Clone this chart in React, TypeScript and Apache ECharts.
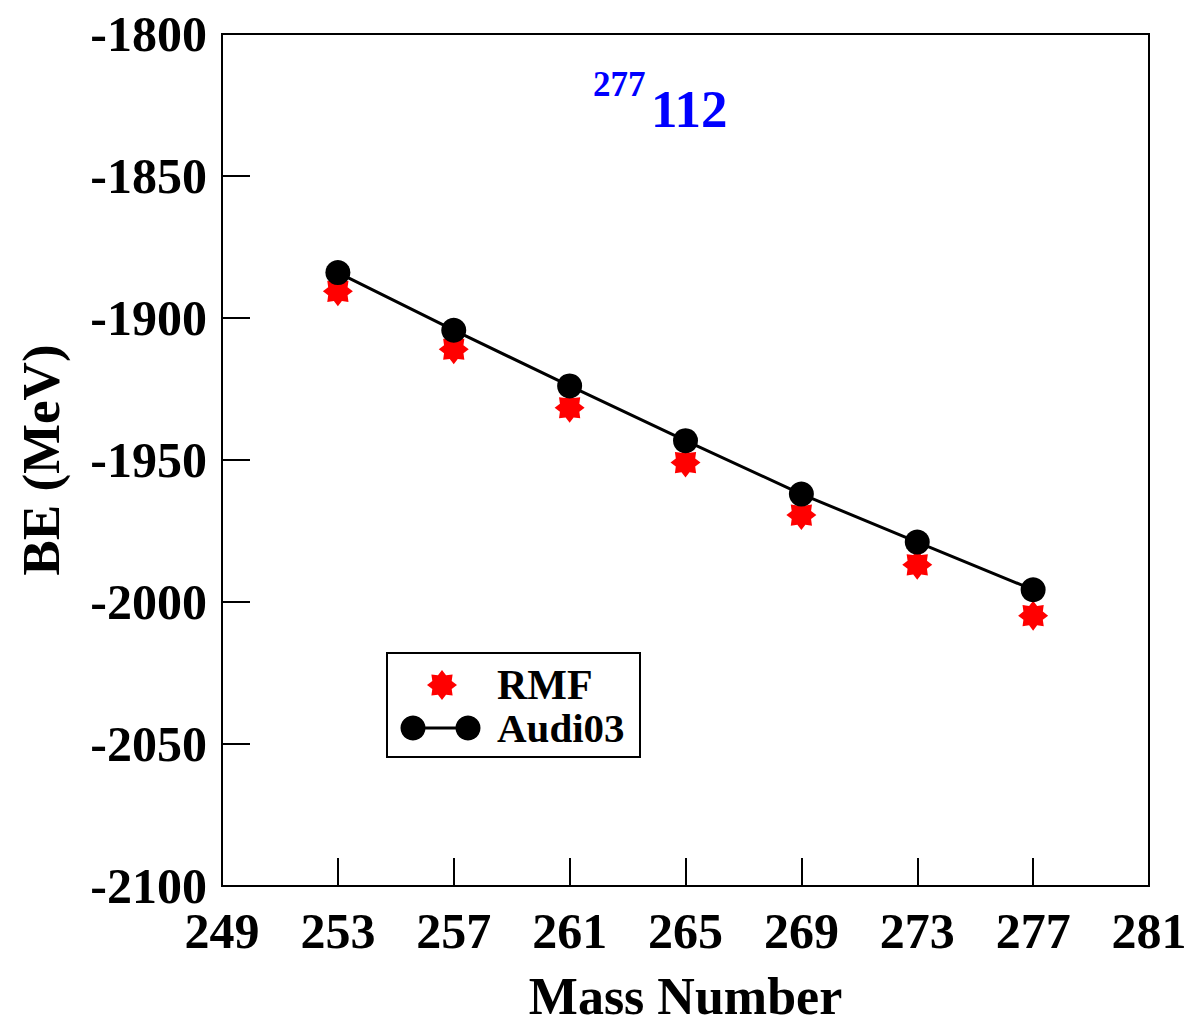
import React, { useEffect, useRef } from "react";
import * as echarts from "echarts";

const massNumbers = [253, 257, 261, 265, 269, 273, 277];
const rmfBE = [-1890.6, -1911.0, -1931.6, -1950.9, -1969.4, -1986.9, -2004.8];
const audiBE = [-1884.0, -1904.3, -1923.9, -1943.2, -1962.0, -1978.9, -1995.7];
const xTicks = [249, 253, 257, 261, 265, 269, 273, 277, 281];
const yTicks = [-2100, -2050, -2000, -1950, -1900, -1850, -1800];

const STAR_D =
  "M50 0 L63.39 17.66 L85.36 14.64 L82.34 36.61 L100 50 L82.34 63.39 L85.36 85.36 L63.39 82.34 L50 100 L36.61 82.34 L14.64 85.36 L17.66 63.39 L0 50 L17.66 36.61 L14.64 14.64 L36.61 17.66 Z";

let registered = false;
function ensureShape() {
  if (registered) return;
  registered = true;
  echarts.graphic.registerShape("rmfstar", (echarts.graphic as any).extendPath(STAR_D, {}));
}

const FONT = "'Liberation Serif', 'Times New Roman', serif";

export default function App() {
  const ref = useRef<HTMLDivElement>(null);
  useEffect(() => {
    if (!ref.current) return;
    ensureShape();
    const chart = echarts.init(ref.current, null, { renderer: "svg" });
    const option: any = {
      animation: false,
      backgroundColor: "#ffffff",
      grid: { left: 222, right: 44, top: 34, bottom: 136, show: true, borderColor: "#000", borderWidth: 2, backgroundColor: "transparent" },
      xAxis: {
        type: "value",
        min: xTicks[0],
        max: xTicks[xTicks.length - 1],
        interval: 4,
        name: "Mass Number",
        nameLocation: "middle",
        nameGap: 84,
        nameTextStyle: { fontFamily: FONT, fontWeight: "bold", fontSize: 52, color: "#000" },
        axisLine: { show: true, lineStyle: { color: "#000", width: 2 } },
        axisTick: { show: true, inside: true, length: 28, lineStyle: { color: "#000", width: 2 } },
        axisLabel: { fontFamily: FONT, fontWeight: "bold", fontSize: 50, color: "#000", margin: 20, showMinLabel: true, showMaxLabel: true, formatter: (v: number) => String(v) },
        splitLine: { show: false },
      },
      yAxis: {
        type: "value",
        min: yTicks[0],
        max: yTicks[yTicks.length - 1],
        interval: 50,
        name: "BE (MeV)",
        nameLocation: "middle",
        nameGap: 155,
        nameTextStyle: { fontFamily: FONT, fontWeight: "bold", fontSize: 53, color: "#000" },
        axisLine: { show: true, lineStyle: { color: "#000", width: 2 } },
        axisTick: { show: true, inside: true, length: 28, lineStyle: { color: "#000", width: 2 } },
        axisLabel: { fontFamily: FONT, fontWeight: "bold", fontSize: 50, color: "#000", margin: 15, showMinLabel: true, showMaxLabel: true, formatter: (v: number) => String(v) },
        splitLine: { show: false },
      },
      series: [
        {
          name: "RMF",
          type: "scatter",
          data: massNumbers.map((m, i) => [m, rmfBE[i]]),
          symbol: "path://" + STAR_D,
          symbolSize: 30,
          itemStyle: { color: "#ff0000", opacity: 1 },
          z: 2,
        },
        {
          name: "Audi03",
          type: "line",
          data: massNumbers.map((m, i) => [m, audiBE[i]]),
          symbol: "circle",
          symbolSize: 25,
          showSymbol: true,
          lineStyle: { color: "#000", width: 3 },
          itemStyle: { color: "#000", opacity: 1 },
          z: 3,
        },
      ],
      graphic: [
        {
          type: "rect",
          shape: { x: 387, y: 653, width: 253, height: 104 },
          style: { fill: "#fff", stroke: "#000", lineWidth: 2 },
          z: 10,
        },
        {
          type: "rmfstar",
          x: 427,
          y: 670,
          scaleX: 0.3,
          scaleY: 0.3,
          style: { fill: "#ff0000" },
          z: 11,
        },
        {
          type: "text",
          x: 497,
          y: 685,
          style: { text: "RMF", fontFamily: FONT, fontWeight: "bold", fontSize: 42, fill: "#000", verticalAlign: "middle" },
          z: 11,
        },
        {
          type: "line",
          shape: { x1: 413, y1: 728, x2: 468, y2: 728 },
          style: { stroke: "#000", lineWidth: 3 },
          z: 11,
        },
        { type: "circle", shape: { cx: 413, cy: 728, r: 12.5 }, style: { fill: "#000" }, z: 12 },
        { type: "circle", shape: { cx: 468, cy: 728, r: 12.5 }, style: { fill: "#000" }, z: 12 },
        {
          type: "text",
          x: 497,
          y: 728,
          style: { text: "Audi03", fontFamily: FONT, fontWeight: "bold", fontSize: 41, fill: "#000", verticalAlign: "middle" },
          z: 11,
        },
        {
          type: "text",
          x: 593,
          y: 84,
          style: { text: "277", fontFamily: FONT, fontWeight: "bold", fontSize: 35, fill: "#0000ff", verticalAlign: "middle" },
          z: 11,
        },
        {
          type: "text",
          x: 651,
          y: 109,
          style: { text: "112", fontFamily: FONT, fontWeight: "bold", fontSize: 53, fill: "#0000ff", verticalAlign: "middle" },
          z: 11,
        },
      ],
    };
    chart.setOption(option);
    return () => chart.dispose();
  }, []);
  return <div ref={ref} style={{ width: 1193, height: 1027, position: "absolute", left: 0, top: 0 }} />;
}
